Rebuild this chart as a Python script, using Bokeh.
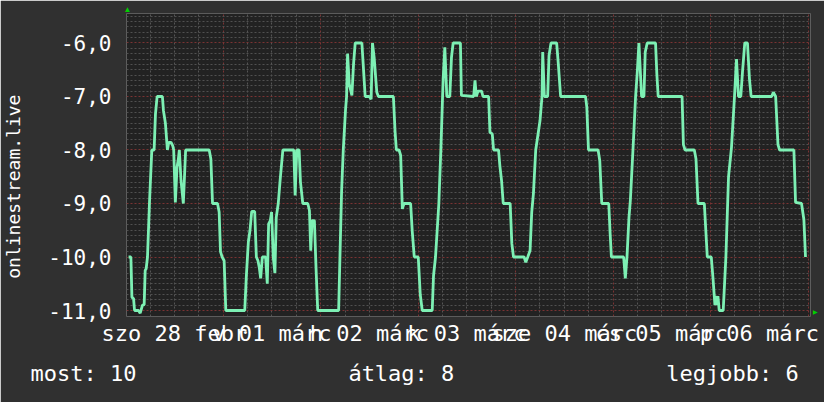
from bokeh.plotting import figure
from bokeh.models import FixedTicker, Range1d, Title
from bokeh.embed import file_html
from bokeh.resources import INLINE

# ---- data (hours since 2015-02-28 00:00, negated rank) ----
hours = [0.71, 1.28, 1.53, 1.94, 2.18, 3.16, 3.57, 4.14, 4.55, 4.80, 5.04, 5.37, 5.86, 6.43, 7.00,
         7.33, 7.74, 9.04, 9.29, 9.78, 10.27, 10.60, 11.17, 11.58, 11.82, 12.23, 12.64, 12.97, 13.21,
         13.62, 14.19, 14.76, 20.56, 20.97, 21.38, 22.61, 23.01, 23.34, 23.75, 24.24, 24.65, 29.31,
         29.71, 30.20, 30.61, 31.02, 31.76, 32.17, 32.57, 32.90, 33.23, 33.64, 34.45, 34.86, 35.19,
         35.60, 35.92, 36.33, 36.74, 37.07, 37.56, 38.05, 38.70, 41.40, 41.72, 42.13, 42.70, 43.03,
         43.60, 44.83, 45.24, 45.56, 45.89, 46.46, 46.87, 47.28, 52.43, 52.75, 53.16, 53.57, 54.14,
         54.39, 54.63, 55.04, 55.69, 56.10, 56.51, 58.15, 58.47, 58.96, 59.94, 60.43, 60.76, 61.17,
         61.82, 62.23, 65.91, 66.31, 66.64, 67.30, 67.70, 68.11, 68.52, 70.15, 70.56, 71.05, 72.03,
         72.52, 73.01, 75.47, 75.79, 76.28, 77.10, 77.59, 78.16, 78.57, 79.06, 79.80, 80.21, 80.62,
         82.41, 82.65, 85.68, 86.00, 86.33, 86.74, 87.63, 87.96, 89.35, 89.68, 90.25, 90.58, 91.80,
         92.13, 92.54, 92.95, 94.66, 95.07, 95.48, 98.09, 98.50, 98.99, 99.56, 99.97, 100.38, 100.95,
         102.01, 102.50, 102.67, 103.08, 103.89, 104.22, 104.71, 106.10, 106.51, 107.08, 113.21,
         113.53, 113.94, 116.31, 116.72, 117.21, 118.93, 119.25, 119.58, 122.60, 123.01, 123.42,
         123.91, 124.24, 124.89, 125.54, 125.95, 126.36, 127.01, 127.59, 127.91, 128.40, 130.45,
         130.77, 131.10, 136.98, 137.31, 137.72, 140.00, 140.41, 140.90, 142.46, 142.78, 143.19,
         144.17, 144.58, 145.07, 145.32, 145.64, 145.81, 146.13, 147.11, 147.77, 148.42, 149.15,
         149.89, 150.38, 150.87, 151.44, 151.85, 152.42, 153.08, 153.57, 153.98, 159.04, 159.45,
         160.02, 160.59, 161.00, 164.51, 164.92, 166.39, 166.97, 167.37]
rank = [-10.0, -10.0, -10.75, -10.78, -11.0, -11.0, -11.05, -10.9, -10.89, -10.25, -10.22, -10.0, -8.98, -8.0, -8.0,
        -7.33, -7.0, -7.0, -7.26, -7.5, -8.0, -7.86, -7.86, -7.92, -8.0, -8.98, -8.32, -8.17, -8.0,
        -8.57, -9.0, -8.0, -8.0, -8.17, -9.0, -9.0, -9.16, -9.9, -10.0, -10.07, -11.0, -11.0,
        -10.35, -9.72, -9.5, -9.15, -9.15, -10.0, -10.07, -10.2, -10.4, -10.0, -10.0, -10.5, -9.38,
        -9.32, -9.16, -10.0, -10.3, -9.26, -9.0, -8.54, -8.0, -8.0, -8.85, -8.0, -8.0, -8.6,
        -9.0, -9.0, -9.13, -9.88, -9.32, -9.32, -10.22, -11.0, -11.0, -10.0, -8.76, -8.0, -7.23,
        -7.0, -6.2, -6.77, -6.98, -6.39, -6.0, -6.0, -6.39, -7.0, -7.0, -7.05, -6.0, -6.27,
        -6.92, -7.0, -7.0, -7.64, -8.0, -8.0, -8.1, -9.1, -9.0, -9.0, -9.53, -10.0, -10.0,
        -10.7, -11.0, -11.0, -10.35, -10.0, -9.0, -8.0, -6.67, -6.08, -7.0, -7.0, -6.27, -6.0,
        -6.0, -6.98, -7.0, -6.7, -7.0, -6.9, -6.9, -7.0, -7.0, -7.67, -7.7, -8.0, -8.0,
        -8.3, -8.57, -9.0, -9.0, -9.75, -10.0, -10.0, -10.1, -10.0, -9.88, -9.16, -8.82, -8.0,
        -7.45, -7.0, -6.17, -7.0, -7.0, -6.24, -6.0, -6.0, -6.39, -7.0, -7.0,
        -7.2, -8.0, -8.0, -8.2, -9.0, -9.0, -9.53, -10.0, -10.0, -10.4, -10.0,
        -9.26, -8.95, -8.0, -7.0, -6.55, -6.0, -7.0, -7.0, -6.17, -6.0, -6.0,
        -6.58, -7.0, -7.0, -7.9, -8.0, -8.0, -8.17, -9.0, -9.0, -9.44, -10.0,
        -10.0, -10.38, -10.9, -10.73, -10.9, -10.73, -11.0, -11.0, -10.0, -8.5, -7.95,
        -7.0, -6.3, -7.0, -7.0, -6.55, -6.0, -6.0, -6.67, -7.0, -7.0, -6.92,
        -7.0, -7.9, -8.0, -8.0, -8.98, -9.0, -9.3, -10.0]

day_labels = ["szo 28 febr", "v 01 márc", "h 02 márc", "k 03 márc",
              "sze 04 márc", "cs 05 márc", "p 06 márc"]
label_hours = [12, 36, 60, 84, 108, 132, 156]
y_ticks = [-11, -10, -9, -8, -7, -6]
y_tick_labels = ["-11,0", "-10,0", "-9,0", "-8,0", "-7,0", "-6,0"]
series_name = "onlinestream.live"
legend_texts = ["most: 10", "átlag: 8", "legjobb: 6"]

FONT = "DejaVu Sans Mono"
NBSP = "\u00a0"
X0, X1 = 0.2, 168.6
Y0, Y1 = -11.112, -5.449

p = figure(width=824, height=402, output_backend="svg", toolbar_location=None, title=None,
           x_range=Range1d(X0, X1), y_range=Range1d(Y0, Y1),
           min_border_left=123, min_border_right=14, min_border_top=13, min_border_bottom=86)
p.background_fill_color = "#222222"
p.border_fill_color = "#303030"
p.outline_line_color = None

# grids
xg = p.xgrid[0]
xg.ticker = FixedTicker(ticks=[24 * i for i in range(8)],
                        minor_ticks=[h for h in range(0, 169, 6) if h % 24])
xg.grid_line_color = "#7a3333"
xg.grid_line_dash = "2 2"
xg.minor_grid_line_color = "#555555"
xg.minor_grid_line_dash = "2 2"
yg = p.ygrid[0]
yg.ticker = FixedTicker(ticks=y_ticks,
                        minor_ticks=[round(-11 + 0.1 * i, 1) for i in range(58) if i % 10])
yg.grid_line_color = "#7a3333"
yg.grid_line_dash = "2 2"
yg.minor_grid_line_color = "#505050"
yg.minor_grid_line_dash = "2 2"

p.line(hours, rank, line_color="#7df0b4", line_width=2.8)

# axes
p.xaxis.ticker = FixedTicker(ticks=label_hours)
p.xaxis.major_label_overrides = dict(zip(label_hours, day_labels))
p.yaxis.ticker = FixedTicker(ticks=y_ticks)
p.yaxis.major_label_overrides = dict(zip(y_ticks, y_tick_labels))
for ax in (p.xaxis[0], p.yaxis[0]):
    ax.major_tick_in = 0
    ax.major_tick_out = 0
    ax.minor_tick_in = 0
    ax.minor_tick_out = 0
    ax.axis_line_color = None
    ax.major_label_text_font = FONT
    ax.major_label_text_color = "#ffffff"
p.xaxis.major_label_text_font_size = "22px"
p.yaxis.major_label_text_font_size = "21px"
p.xaxis.major_label_standoff = 4
p.yaxis.major_label_standoff = 15
p.yaxis.axis_label = series_name + NBSP * 4
p.yaxis.axis_label_text_font = FONT
p.yaxis.axis_label_text_font_size = "18px"
p.yaxis.axis_label_text_font_style = "normal"
p.yaxis.axis_label_text_color = "#ffffff"
p.yaxis.axis_label_standoff = 21

# arrow at the top of the y axis
p.add_layout(Title(text="▲", align="left", offset=-3, standoff=0, text_font_size="8px",
                   text_color="#00d000", text_font_style="normal"), "above")
# arrow at the end of the x axis
p.add_layout(Title(text="▲", align="right", offset=0, standoff=1, text_font_size="8px",
                   text_color="#00d000", text_font_style="normal"), "right")

# legend line (monospace, aligned with non-breaking spaces)
legend_line = (legend_texts[0] + NBSP * (24 - len(legend_texts[0]))
               + legend_texts[1] + NBSP * (24 - len(legend_texts[1]))
               + legend_texts[2])
p.add_layout(Title(text=legend_line, align="left", offset=-96, standoff=20,
                   text_font=FONT, text_font_size="22px", text_font_style="normal",
                   text_color="#ffffff"), "below")

html = file_html(p, INLINE)
html = html.replace("<body>", '<body style="background-color:#303030;">', 1)
open("out.html", "w").write(html)
